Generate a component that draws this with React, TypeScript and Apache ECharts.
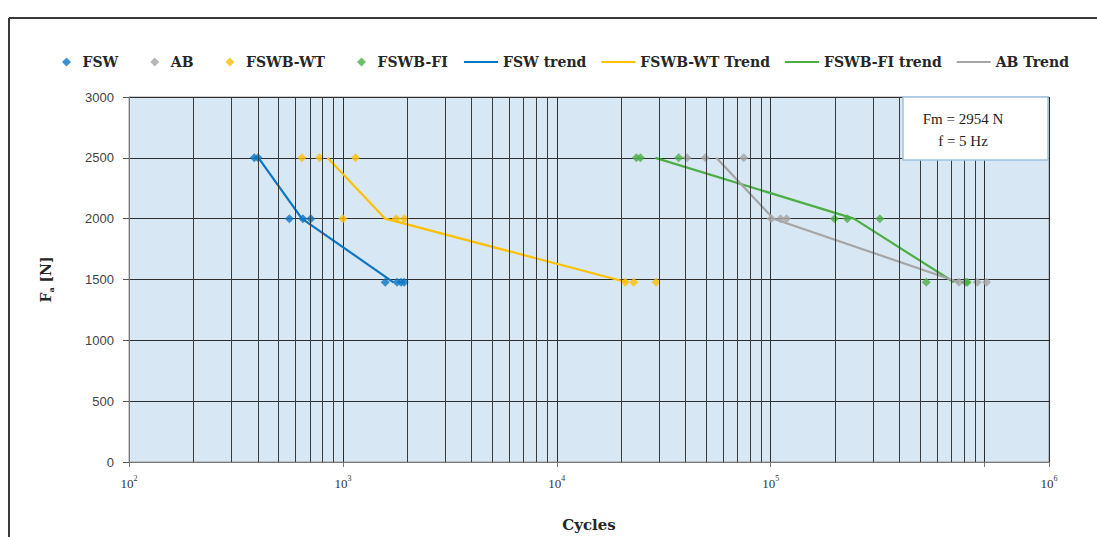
import React, { useEffect, useRef } from 'react';
import * as echarts from 'echarts';

// ---- data (cycles to failure vs. load amplitude) ----
const fswCycles = [385, 401, 562, 650, 708, 1577, 1790, 1870, 1934];
const fswLoads = [2500, 2500, 2000, 2000, 2000, 1477, 1477, 1477, 1477];

const abCycles = [40650, 49500, 74800, 100500, 111100, 118500, 758600, 924000, 1021000];
const abLoads = [2500, 2500, 2500, 2000, 2000, 2000, 1477, 1477, 1477];

const wtCycles = [643, 777, 1145, 1000, 1775, 1934, 20900, 22900, 29100];
const wtLoads = [2500, 2500, 2500, 2000, 2000, 2000, 1477, 1477, 1477];

const fiCycles = [23550, 24580, 37140, 198700, 228000, 323600, 533600, 815000, 830000];
const fiLoads = [2500, 2500, 2500, 2000, 2000, 2000, 1477, 1477, 1477];

const fswTrendCycles = [403, 643, 1724];
const fswTrendLoads = [2500, 2000, 1477];
const wtTrendCycles = [847, 1577, 21300];
const wtTrendLoads = [2500, 2000, 1477];
const fiTrendCycles = [28900, 244900, 720000];
const fiTrendLoads = [2500, 2000, 1477];
const abTrendCycles = [55700, 103000, 760000];
const abTrendLoads = [2500, 2000, 1477];

const minorGridCycles = [
  200, 300, 400, 500, 600, 700, 800, 900,
  2000, 3000, 4000, 5000, 6000, 7000, 8000, 9000,
  20000, 30000, 40000, 50000, 60000, 70000, 80000, 90000,
  200000, 300000, 400000, 500000, 600000, 700000, 800000, 900000,
];

const xMin = 100;
const xMax = 2000000;
const yMin = 0;
const yMax = 3000;
const yInterval = 500;

const annotationLines = ['Fm = 2954 N', 'f = 5 Hz'];

const COLORS = {
  fsw: '#0b77c4',
  ab: '#a5a5a5',
  wt: '#ffc000',
  fi: '#4caf45',
};

const zip = (xs: number[], ys: number[]) => xs.map((x, i) => [x, ys[i]]);

const DIAMOND = 'path://M0,-1L1,0L0,1L-1,0Z';
const serif = 'DejaVu Serif';

export default function App() {
  const ref = useRef<HTMLDivElement>(null);

  useEffect(() => {
    if (!ref.current) return;
    const chart = echarts.init(ref.current, undefined, { renderer: 'svg' });

    const scatter = (name: string, xs: number[], ys: number[], color: string) => ({
      name,
      type: 'scatter',
      data: zip(xs, ys),
      symbol: 'diamond',
      symbolSize: 9,
      itemStyle: { color },
      z: 4,
    });
    const trend = (name: string, xs: number[], ys: number[], color: string) => ({
      name,
      type: 'line',
      data: zip(xs, ys),
      symbol: 'none',
      showSymbol: false,
      lineStyle: { color, width: 2.2 },
      itemStyle: { color },
      z: 3,
    });

    const supMap: Record<number, string> = { 2: '2', 3: '3', 4: '4', 5: '5', 6: '6' };
    const legendText = { fontFamily: serif, fontWeight: 'bold', fontSize: 14, color: '#262626' };

    chart.setOption({
      animation: false,
      backgroundColor: '#ffffff',
      grid: {
        left: 129,
        right: 48,
        top: 97,
        bottom: 71,
        show: true,
        backgroundColor: '#d8e7f4',
        borderColor: '#9a9a9a',
        borderWidth: 1,
      },
      legend: [
        {
          left: 57,
          top: 50,
          itemWidth: 22,
          itemHeight: 9,
          itemGap: 32,
          symbolKeepAspect: true,
          textStyle: legendText,
          data: [
            { name: 'FSW', icon: DIAMOND },
            { name: 'AB', icon: DIAMOND },
            { name: 'FSWB-WT', icon: DIAMOND },
            { name: 'FSWB-FI', icon: DIAMOND },
          ],
        },
        {
          left: 459,
          top: 50,
          itemWidth: 34,
          itemHeight: 2,
          itemGap: 15,
          textStyle: legendText,
          data: [
            { name: 'FSW trend', icon: 'rect' },
            { name: 'FSWB-WT Trend', icon: 'rect' },
            { name: 'FSWB-FI trend', icon: 'rect' },
            { name: 'AB Trend', icon: 'rect' },
          ],
        },
      ],
      xAxis: {
        type: 'log',
        logBase: 10,
        min: xMin,
        max: xMax,
        name: 'Cycles',
        nameLocation: 'middle',
        nameGap: 55,
        nameTextStyle: { fontFamily: serif, fontWeight: 'bold', fontSize: 15, color: '#262626' },
        axisLine: { show: true, lineStyle: { color: '#7a7a7a', width: 1 } },
        axisTick: { show: true, length: 5, lineStyle: { color: '#7a7a7a' } },
        splitLine: { show: true, lineStyle: { color: '#2e2e2e', width: 1 } },
        axisLabel: {
          margin: 12,
          formatter: (v: number) => {
            if (v > 1500000) return '{a|10}{b|6}';
            if (v > 900000) return '';
            const e = Math.round(Math.log10(v));
            return '{a|10}{b|' + (supMap[e] ?? String(e)) + '}';
          },
          rich: {
            a: { fontFamily: 'Liberation Serif', fontSize: 13, color: '#333', lineHeight: 16, verticalAlign: 'bottom' },
            b: { fontFamily: 'Liberation Serif', fontSize: 8, color: '#333', lineHeight: 8, verticalAlign: 'top' },
          },
        },
      },
      yAxis: {
        type: 'value',
        min: yMin,
        max: yMax,
        interval: yInterval,
        name: '{f|F}{s|a}{f| [N]}',
        nameLocation: 'middle',
        nameGap: 74,
        nameTextStyle: {
          rich: {
            f: { fontFamily: serif, fontWeight: 'bold', fontSize: 14, color: '#262626', lineHeight: 18, verticalAlign: 'middle' },
            s: { fontFamily: serif, fontWeight: 'bold', fontSize: 8, color: '#262626', lineHeight: 8, verticalAlign: 'bottom' },
          },
        },
        axisLine: { show: true, lineStyle: { color: '#7a7a7a', width: 1 } },
        axisTick: { show: true, length: 6, lineStyle: { color: '#555' } },
        splitLine: { show: true, lineStyle: { color: '#2e2e2e', width: 1 } },
        axisLabel: {
          fontFamily: 'Liberation Sans',
          fontSize: 13,
          color: '#444',
          margin: 15,
          formatter: (v: number) => String(v),
        },
      },
      graphic: [
        { type: 'line', shape: { x1: 9, y1: 18, x2: 9, y2: 537 }, style: { stroke: '#3a3a3a', lineWidth: 2 }, silent: true },
        { type: 'line', shape: { x1: 9, y1: 18, x2: 1097, y2: 18 }, style: { stroke: '#3a3a3a', lineWidth: 2 }, silent: true },
        {
          type: 'rect',
          shape: { x: 903, y: 97, width: 145, height: 63 },
          style: { fill: '#ffffff', stroke: '#9cc3e5', lineWidth: 1.5 },
          z: 50,
        },
        {
          type: 'text',
          x: 963,
          y: 119,
          style: { text: annotationLines[0], fontFamily: 'Liberation Serif', fontSize: 15, fill: '#222', align: 'center', verticalAlign: 'middle' },
          z: 51,
        },
        {
          type: 'text',
          x: 963,
          y: 141,
          style: { text: annotationLines[1], fontFamily: 'Liberation Serif', fontSize: 15, fill: '#222', align: 'center', verticalAlign: 'middle' },
          z: 51,
        },
      ],
      series: [
        {
          name: 'minor-grid',
          type: 'line',
          data: [],
          z: 1,
          silent: true,
          markLine: {
            silent: true,
            symbol: ['none', 'none'],
            label: { show: false },
            lineStyle: { color: '#3a3a3a', width: 1, type: 'solid' },
            emphasis: { disabled: true },
            data: minorGridCycles.map((c) => ({ xAxis: c })),
          },
        },
        scatter('FSW', fswCycles, fswLoads, COLORS.fsw),
        scatter('AB', abCycles, abLoads, COLORS.ab),
        scatter('FSWB-WT', wtCycles, wtLoads, COLORS.wt),
        scatter('FSWB-FI', fiCycles, fiLoads, COLORS.fi),
        trend('FSW trend', fswTrendCycles, fswTrendLoads, COLORS.fsw),
        trend('FSWB-WT Trend', wtTrendCycles, wtTrendLoads, COLORS.wt),
        trend('FSWB-FI trend', fiTrendCycles, fiTrendLoads, COLORS.fi),
        trend('AB Trend', abTrendCycles, abTrendLoads, COLORS.ab),
      ],
    });

    return () => chart.dispose();
  }, []);

  return (
    <div
      ref={ref}
      style={{ position: 'fixed', left: 0, top: 0, width: 1097, height: 537 }}
    />
  );
}
